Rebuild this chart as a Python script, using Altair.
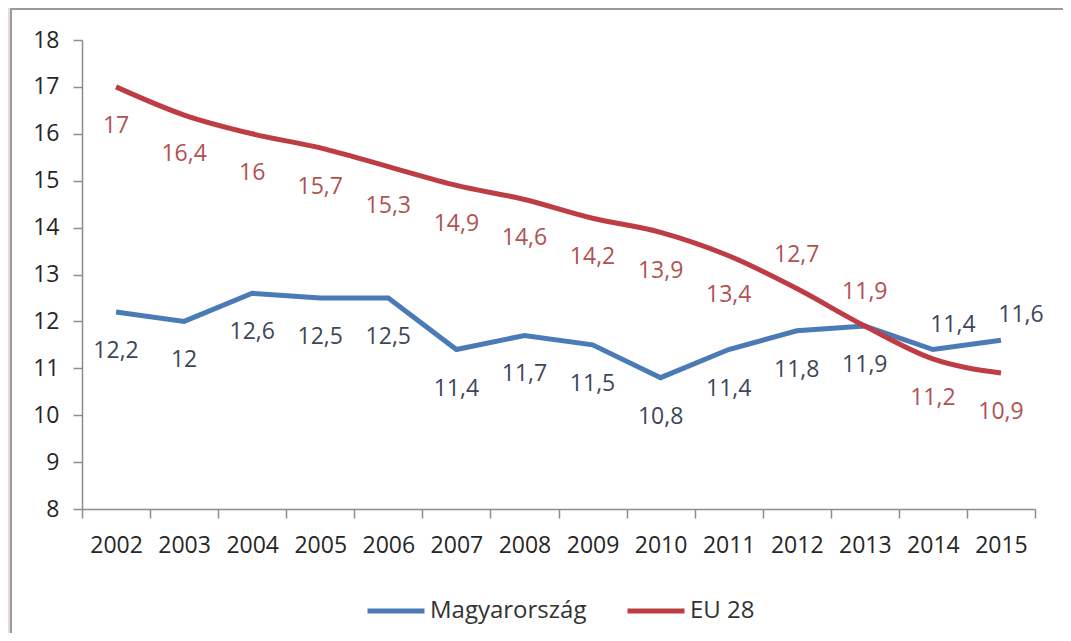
import altair as alt
import pandas as pd

# ---- data ----
years = [str(y) for y in range(2002, 2016)]
hu_values = [12.2, 12.0, 12.6, 12.5, 12.5, 11.4, 11.7, 11.5, 10.8, 11.4, 11.8, 11.9, 11.4, 11.6]
eu_values = [17.0, 16.4, 16.0, 15.7, 15.3, 14.9, 14.6, 14.2, 13.9, 13.4, 12.7, 11.9, 11.2, 10.9]
series_names = ["Magyarország", "EU 28"]
y_ticks = list(range(8, 19))
# label placement relative to the point (styling only)
hu_label_pos = ["below"] * 12 + ["right", "right"]
eu_label_pos = ["below"] * 10 + ["above", "above", "below", "below"]

BLUE = "#4A7BB7"
RED = "#BE3D44"
BLUE_TXT = "#3c475a"
RED_TXT = "#b05252"
FONT = "Open Sans"


def fmt(v):
    return f"{v:g}".replace(".", ",")


rows = []
for name, vals, pos in [(series_names[0], hu_values, hu_label_pos),
                        (series_names[1], eu_values, eu_label_pos)]:
    for y, v, p in zip(years, vals, pos):
        rows.append({"year": y, "value": v, "series": name, "label": fmt(v), "pos": p})
df = pd.DataFrame(rows)

x_enc = alt.X(
    "year:O",
    bandPosition=0.5,
    sort=years,
    scale=alt.Scale(type="band", paddingInner=0, paddingOuter=0),
    axis=alt.Axis(
        title=None, labelAngle=0, tickBand="extent", tickSize=9,
        labelFontSize=23, labelColor="#262626", labelFont=FONT, labelPadding=16,
        domainColor="#8c8c8c", tickColor="#8c8c8c", domainWidth=1.5, tickWidth=1.5,
        grid=False, zindex=1,
    ),
)
y_enc = alt.Y(
    "value:Q",
    scale=alt.Scale(domain=[8, 18], nice=False, zero=False),
    axis=alt.Axis(
        title=None, values=y_ticks, tickSize=9, labelPadding=14,
        labelFontSize=23, labelColor="#262626", labelFont=FONT,
        domainColor="#8c8c8c", tickColor="#8c8c8c", domainWidth=1.5, tickWidth=1.5,
        grid=False, zindex=1,
    ),
)
legend = alt.Legend(
    title=None, orient="none", legendX=283, legendY=540, direction="horizontal",
    symbolType="stroke", symbolSize=3249, symbolStrokeWidth=5,
    labelFontSize=24, labelFont=FONT, labelColor="#333333", labelOffset=3,
    columnPadding=30, padding=0, zindex=1,
)
color_enc = alt.Color(
    "series:N",
    scale=alt.Scale(domain=series_names, range=[BLUE, RED]),
    legend=legend,
)

base = alt.Chart(df)

panel = alt.Chart(pd.DataFrame({"a": [0]})).mark_rect(
    fill="white", stroke="#9a9a9a", strokeWidth=2
).encode(
    x=alt.value(-71), x2=alt.value(1100), y=alt.value(-31), y2=alt.value(700)
)

line_hu = base.transform_filter(alt.datum.series == series_names[0]).mark_line(
    strokeWidth=5, interpolate="linear"
).encode(x=x_enc, y=y_enc, color=color_enc)

line_eu = base.transform_filter(alt.datum.series == series_names[1]).mark_line(
    strokeWidth=5, interpolate="monotone"
).encode(x=x_enc, y=y_enc, color=color_enc)


def labels(series, pos, color, dx, dy):
    return base.transform_filter(
        (alt.datum.series == series) & (alt.datum.pos == pos)
    ).mark_text(
        fontSize=23, font=FONT, color=color, dx=dx, dy=dy,
        align="center", baseline="middle",
    ).encode(x=x_enc, y=y_enc, text="label:N")


chart = alt.layer(
    panel,
    line_hu,
    line_eu,
    labels(series_names[0], "below", BLUE_TXT, 0, 39),
    labels(series_names[0], "right", BLUE_TXT, 20, -25),
    labels(series_names[1], "below", RED_TXT, 0, 39),
    labels(series_names[1], "above", RED_TXT, 0, -34),
).properties(
    width=953, height=469,
    autosize=alt.AutoSizeParams(type="none"),
    padding={"left": 74, "top": 32, "right": 28, "bottom": 124},
).configure(
    background="#e9dadf", font=FONT
).configure_view(stroke=None)

chart.save("out.html", embed_options={"renderer": "svg", "actions": False})
